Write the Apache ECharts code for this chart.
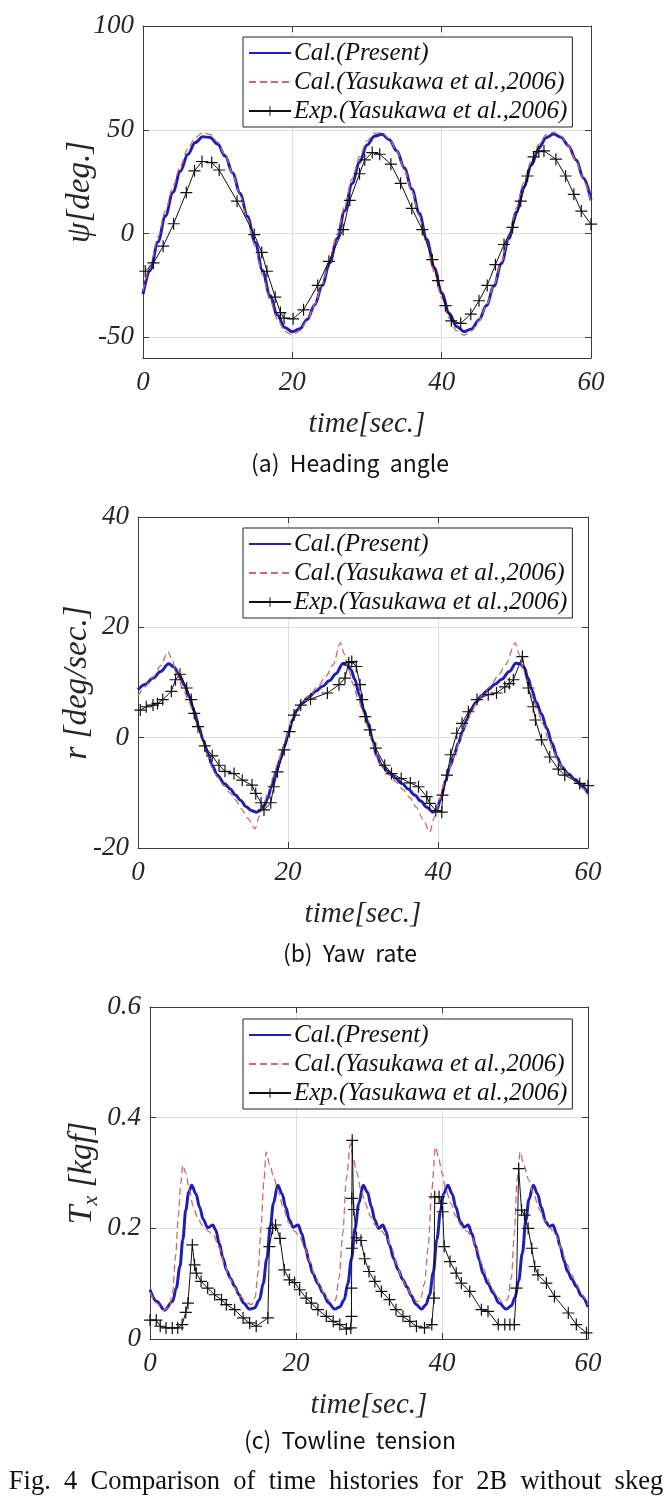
<!DOCTYPE html>
<html><head><meta charset="utf-8">
<script src="https://cdn.jsdelivr.net/npm/echarts@6/dist/echarts.min.js"></script>
<style>html,body{margin:0;padding:0;background:#fff}#c{width:672px;height:1506px}</style>
</head><body><div id="c"></div>
<script>
const seriesNames = ['Cal.(Present)', 'Cal.(Yasukawa et al.,2006)', 'Exp.(Yasukawa et al.,2006)'];
const xTicks = [0, 20, 40, 60];
const headingTicks = [-50, 0, 50, 100];
const yawTicks = [-20, 0, 20, 40];
const tensionTicks = [0, 0.2, 0.4, 0.6];
const captions = ['(a)  Heading  angle', '(b)  Yaw  rate', '(c)  Towline  tension'];
const figCaption = 'Fig.  4  Comparison  of  time  histories  for  2B  without  skeg';

// (a) heading angle
const headingTime = [0,1,2,3,4,5,6,7,8,9,10,11,12,13,14,15,16,17,18,19,20,21,22,23,24,25,26,27,28,29,30,31,32,33,34,35,36,37,38,39,40,41,42,43,44,45,46,47,48,49,50,51,52,53,54,55,56,57,58,59,60];
const headingPresent = [-29.2,-17.4,-4.1,8.4,19.8,30.0,38.1,43.8,46.6,46.3,43.1,37.3,29.2,19.3,8.2,-4.2,-17.8,-29.9,-39.3,-45.3,-47.4,-45.9,-41.5,-34.3,-25.0,-14.2,-2.4,10.9,24.0,34.3,42.6,46.9,47.8,45.2,39.7,31.6,21.5,9.8,-2.8,-16.5,-28.7,-38.4,-44.8,-47.3,-46.0,-41.7,-34.7,-25.3,-14.4,-2.4,10.3,22.4,32.9,41.1,46.2,47.9,46.4,42.2,35.5,26.6,16.1];
const headingYasukawa = [-27.5,-15.2,-1.5,11.0,22.5,32.6,40.8,46.2,48.6,47.7,44.0,37.6,28.9,18.4,6.9,-6.2,-20.0,-32.0,-41.5,-47.2,-48.9,-46.9,-41.9,-34.2,-24.2,-12.9,-0.3,13.2,26.4,37.0,44.6,48.4,48.6,45.7,39.6,31.0,20.4,8.4,-4.9,-18.7,-31.0,-40.8,-46.9,-49.0,-47.0,-42.1,-34.6,-24.8,-13.6,-0.8,12.5,24.6,35.0,43.0,47.6,48.9,46.9,42.2,35.0,25.8,15.0];
const headingExp = [[0.3,-18.2],[1.4,-14.2],[2.7,-6.1],[4.1,4.7],[5.8,19.7],[6.9,30.2],[7.9,34.7],[9.2,34.2],[10.2,30.6],[12.6,15.6],[14.9,-0.5],[15.9,-9.1],[16.6,-18.2],[17.7,-30.7],[18.4,-38.1],[18.9,-40.8],[20.1,-41.1],[21.5,-36.8],[23.4,-25],[24.9,-13.4],[26.8,1.9],[27.7,16],[29.0,28.8],[29.7,35.5],[30.7,39],[31.7,38.2],[33.2,33.4],[34.5,24.2],[36.0,12.1],[37.4,1.9],[38.75,-12.6],[39.5,-22.7],[40.5,-34.8],[41.3,-42.1],[42.55,-43.3],[43.9,-38.9],[45.0,-32.4],[46.1,-25],[47.2,-15],[48.35,-5.3],[49.5,3],[50.6,15.6],[51.5,27.7],[52.3,36.9],[53.0,39.5],[53.7,39.8],[55.3,35.8],[56.6,27.7],[57.7,18.9],[58.7,10.8],[60,4.5]];

// (b) yaw rate
const yawPresent = [[0,8.7],[1,9.7],[2,10.8],[3,12],[4.1,13.4],[4.8,12.8],[5.5,11.4],[6.2,9.5],[6.8,7.5],[7.5,4.8],[8.1,2],[8.7,-0.5],[9.3,-2.8],[9.9,-5.1],[10.6,-6.8],[11.5,-8.3],[12.3,-9.3],[13.0,-10.4],[13.7,-11.4],[14.4,-12.5],[15.1,-13.2],[15.8,-13.5],[16.3,-13.2],[16.8,-12.4],[17.3,-11],[17.8,-8.8],[18.4,-6.3],[19.0,-3.8],[19.5,-1.6],[20.1,1],[20.6,3.2],[21.2,5],[21.9,6.3],[22.8,7.4],[23.7,8.4],[24.6,9.3],[25.5,10.3],[26.4,11.6],[27.3,13.4],[27.9,13.2],[28.4,12.3],[28.9,10.6],[29.5,7.8],[30.1,5],[30.7,2.6],[31.3,-0.5],[31.8,-3.2],[32.5,-5],[33.4,-6.2],[34.3,-7.3],[35.2,-8.3],[36.0,-9.3],[36.9,-10.4],[37.7,-11.5],[38.5,-12.6],[39.3,-13.5],[39.8,-13.1],[40.4,-11],[41.0,-7.8],[41.6,-5.2],[42.2,-2.9],[42.7,-1],[43.3,1.2],[43.8,3.2],[44.4,5],[45.0,6.3],[45.8,7.6],[46.7,8.7],[47.6,9.7],[48.5,10.6],[49.5,12],[50.4,13.5],[50.9,13.4],[51.5,12.7],[52.0,10.8],[52.5,8.7],[53.1,6.4],[53.8,4.3],[54.5,1.7],[55.2,-1],[55.9,-3.6],[56.5,-5.3],[57.4,-6.6],[58.3,-7.6],[59.2,-8.8],[60,-10.1]];
const yawYasukawa = [[0,7.5],[1,9.3],[2,11],[3,13],[4.0,15.6],[4.5,14.2],[5.2,11.5],[6,8.8],[6.8,6.5],[7.5,4],[8.1,1.5],[8.7,-1],[9.3,-3.3],[9.9,-5.5],[10.6,-7.2],[11.5,-8.8],[12.3,-10],[13.0,-11.3],[13.8,-12.9],[14.6,-14.6],[15.6,-16.5],[16.2,-14.2],[16.8,-11.8],[17.4,-9.6],[18.0,-7.2],[18.6,-4.8],[19.2,-2.4],[19.8,0.2],[20.5,2.8],[21.2,4.8],[22,6.4],[23,7.9],[24,9.3],[25,11],[26,13.2],[27.0,17.2],[27.5,15.2],[28.1,12.2],[28.7,9.6],[29.3,7.2],[30,4.6],[30.7,1.8],[31.3,-1],[31.9,-3.6],[32.6,-5.4],[33.5,-6.8],[34.4,-8],[35.3,-9.4],[36.2,-10.8],[37.1,-12.6],[38,-14.8],[38.9,-17.1],[39.5,-14.5],[40.2,-11.2],[40.9,-8],[41.6,-5.2],[42.3,-2.6],[43,-0.2],[43.7,2.4],[44.4,4.6],[45.1,6.2],[46,7.8],[47,9.4],[48,11.2],[49,13.2],[50.3,17.2],[50.8,15.2],[51.4,12.2],[52,9.6],[52.6,7.2],[53.3,4.8],[54,2.4],[54.7,-0.2],[55.4,-2.6],[56.1,-4.6],[56.8,-6.0],[57.6,-7.1],[58.5,-8.2],[59.3,-9.2],[60,-10.5]];
const yawExp = [[0.3,5.0],[1.1,5.6],[2.0,5.9],[2.6,6.2],[3.3,6.9],[4.45,8.4],[5.0,10.5],[5.6,11.5],[6.5,9.0],[7.1,6.9],[7.5,4.4],[8.0,2.0],[8.9,-1.5],[9.9,-3.3],[10.8,-5.0],[11.6,-6.1],[12.8,-6.5],[13.9,-7.7],[15.2,-8.6],[15.7,-10.1],[16.4,-11.8],[16.8,-13.1],[17.7,-11.8],[18.1,-8.9],[18.6,-6.2],[19.5,-2.2],[20.2,1.1],[20.8,4.1],[21.7,5.9],[23.0,7.0],[25.25,8.1],[26.8,9.6],[27.6,10.8],[28.1,13.6],[28.5,13.8],[29.1,12.9],[29.6,9.6],[29.9,6.9],[30.3,3.8],[30.9,1.4],[31.7,-1.9],[32.9,-5.0],[33.8,-6.5],[35.1,-7.4],[36.3,-8.2],[37.4,-8.9],[38.5,-10.7],[38.9,-11.9],[39.7,-13.2],[40.5,-13.5],[40.6,-10.4],[41.2,-6.8],[41.7,-3.1],[42.5,0.8],[43.2,2.6],[44.05,4.7],[45.2,6.9],[46.7,7.8],[47.8,8.1],[48.9,9.2],[49.5,9.8],[50.05,10.5],[51.25,14.7],[52.05,9.0],[52.7,5.6],[53.0,3.2],[53.8,-0.4],[54.9,-3.5],[56.05,-5.7],[56.9,-6.8],[58.9,-8.3],[60,-8.7]];

// (c) towline tension
const tensionPresent = [[0,0.089],[0.9,0.068],[2.0,0.052],[3.1,0.068],[3.6,0.092],[4.1,0.131],[4.5,0.18],[4.9,0.233],[5.3,0.265],[5.7,0.278],[6.3,0.262],[6.8,0.238],[7.3,0.216],[7.9,0.201],[8.6,0.206],[9.0,0.197],[9.5,0.172],[10.0,0.146],[10.5,0.124],[11.0,0.11],[11.6,0.095],[12.2,0.08],[12.8,0.065],[13.6,0.054],[14.3,0.056],[15.0,0.071],[15.5,0.1],[16.0,0.145],[16.5,0.205],[16.9,0.245],[17.5,0.278],[18.1,0.262],[18.6,0.238],[19.1,0.215],[19.6,0.202],[20.3,0.206],[20.8,0.19],[21.3,0.164],[21.8,0.14],[22.3,0.119],[23,0.1],[23.7,0.083],[24.4,0.066],[25.3,0.054],[26.0,0.058],[26.6,0.071],[27.1,0.1],[27.6,0.145],[28.1,0.2],[28.6,0.245],[29.2,0.278],[29.8,0.265],[30.3,0.24],[30.8,0.215],[31.3,0.2],[31.9,0.206],[32.3,0.195],[32.8,0.17],[33.4,0.145],[34.0,0.125],[34.6,0.108],[35.2,0.094],[35.8,0.078],[36.4,0.063],[37.2,0.054],[37.8,0.062],[38.3,0.08],[38.8,0.12],[39.3,0.18],[39.8,0.232],[40.2,0.262],[40.8,0.278],[41.4,0.262],[41.9,0.238],[42.5,0.212],[43.0,0.202],[43.6,0.206],[44.1,0.19],[44.6,0.168],[45.1,0.143],[45.6,0.119],[46.3,0.1],[47.0,0.083],[47.8,0.065],[48.8,0.054],[49.5,0.06],[50.0,0.075],[50.5,0.105],[51.0,0.155],[51.5,0.215],[51.9,0.252],[52.5,0.278],[53.1,0.262],[53.6,0.238],[54.2,0.212],[54.7,0.203],[55.2,0.206],[55.7,0.19],[56.2,0.167],[56.7,0.142],[57.2,0.122],[57.8,0.108],[58.4,0.095],[59.1,0.078],[60,0.058]];
const tensionYasukawa = [[0,0.085],[0.9,0.065],[1.8,0.052],[2.6,0.056],[3.1,0.085],[3.5,0.15],[3.9,0.225],[4.2,0.28],[4.5,0.314],[4.9,0.3],[5.4,0.27],[5.9,0.24],[6.5,0.22],[7.2,0.205],[8.0,0.195],[8.7,0.187],[9.5,0.165],[10.2,0.135],[10.9,0.11],[11.6,0.093],[12.4,0.077],[13.2,0.066],[13.9,0.062],[14.4,0.075],[14.8,0.12],[15.2,0.2],[15.6,0.285],[15.9,0.338],[16.4,0.315],[17,0.29],[17.6,0.265],[18.3,0.235],[19,0.21],[19.8,0.195],[20.5,0.185],[21.2,0.165],[21.9,0.14],[22.6,0.115],[23.4,0.092],[24.1,0.075],[24.8,0.066],[25.4,0.07],[25.9,0.11],[26.4,0.19],[26.9,0.29],[27.45,0.353],[27.8,0.33],[28.3,0.302],[28.9,0.27],[29.5,0.245],[30.2,0.222],[30.9,0.205],[31.7,0.195],[32.4,0.185],[33.1,0.165],[33.8,0.135],[34.5,0.11],[35.2,0.092],[35.9,0.077],[36.6,0.067],[37.1,0.075],[37.6,0.1],[38.1,0.165],[38.6,0.27],[39.1,0.347],[39.5,0.33],[40,0.3],[40.5,0.272],[41.2,0.245],[41.9,0.222],[42.6,0.205],[43.4,0.195],[44.1,0.185],[44.8,0.162],[45.5,0.135],[46.2,0.11],[46.9,0.09],[47.6,0.075],[48.4,0.065],[49.0,0.072],[49.5,0.11],[49.9,0.19],[50.3,0.29],[50.7,0.338],[51.2,0.315],[51.9,0.287],[52.6,0.26],[53.3,0.235],[54,0.215],[54.8,0.2],[55.6,0.188],[56.3,0.165],[57,0.14],[57.7,0.118],[58.4,0.1],[59.2,0.08],[60,0.062]];
const tensionExp = [[0,0.034],[0.86,0.034],[1.4,0.023],[2.2,0.02],[3.05,0.02],[3.8,0.02],[4.4,0.026],[4.9,0.048],[5.2,0.065],[5.8,0.17],[6.1,0.134],[6.35,0.119],[7.0,0.104],[7.9,0.092],[8.85,0.08],[9.8,0.071],[10.45,0.062],[11.6,0.053],[12.75,0.038],[13.65,0.029],[14.55,0.023],[16.15,0.038],[16.35,0.167],[16.8,0.2],[17.2,0.206],[17.8,0.182],[18.4,0.125],[19.1,0.107],[19.8,0.102],[20.5,0.089],[21.4,0.074],[22.1,0.065],[23.0,0.053],[24.15,0.041],[25.1,0.032],[26.0,0.026],[26.9,0.018],[27.5,0.02],[27.6,0.041],[27.6,0.092],[27.65,0.164],[27.65,0.254],[27.7,0.359],[27.9,0.234],[28.3,0.183],[28.9,0.178],[29.4,0.145],[30.0,0.122],[30.8,0.104],[31.7,0.086],[32.8,0.071],[33.7,0.053],[34.65,0.041],[35.6,0.032],[36.5,0.023],[37.6,0.02],[38.6,0.026],[38.9,0.074],[39.0,0.257],[39.6,0.257],[39.9,0.245],[40.1,0.23],[40.3,0.167],[41.1,0.14],[41.95,0.119],[42.65,0.101],[43.8,0.086],[45.4,0.053],[46.3,0.05],[47.7,0.026],[48.6,0.026],[49.3,0.026],[49.9,0.026],[50.2,0.092],[50.5,0.308],[50.9,0.233],[51.3,0.224],[51.8,0.2],[52.3,0.164],[52.7,0.131],[53.15,0.116],[54.3,0.101],[55.4,0.077],[57.3,0.047],[58.4,0.026],[59.8,0.011]];

const SERIF = '"Liberation Serif", "Times New Roman", serif';
const BLUE = '#1f1fb4', RED = '#cc6b6b', BLACK = '#111111', AXIS = '#3c3c3c', GRIDC = '#dedede';
const PLUS = 'path://M-0.1,-1L0.1,-1L0.1,-0.1L1,-0.1L1,0.1L0.1,0.1L0.1,1L-0.1,1L-0.1,0.1L-1,0.1L-1,-0.1L-0.1,-0.1Z';

const grids = [
  {left: 143, top: 26, width: 448, height: 332},
  {left: 138, top: 517, width: 450, height: 331},
  {left: 150, top: 1007, width: 438, height: 332}
];
const yCfg = [
  {min: -60, max: 100, ticks: headingTicks, name: 'ψ[deg.]', gap: 46},
  {min: -20, max: 40, ticks: yawTicks, name: 'r [deg/sec.]', gap: 44},
  {min: 0, max: 0.6, ticks: tensionTicks, name: '{t|T}{s|x} [kgf]', gap: 48}
];
const labelStyle = {color: '#262626', fontFamily: SERIF, fontStyle: 'italic', fontSize: 27};
const xNameStyle = {color: '#262626', fontFamily: SERIF, fontStyle: 'italic', fontSize: 29};
const yNameStyle = {color: '#262626', fontFamily: SERIF, fontStyle: 'italic', fontSize: 33,
  rich: {t: {fontFamily: SERIF, fontStyle: 'italic', fontSize: 34, color: '#262626'},
         s: {fontFamily: SERIF, fontStyle: 'italic', fontSize: 22, color: '#262626', padding: [18, 0, 0, 0]}}};

const xAxes = [], yAxes = [];
grids.forEach((g, i) => {
  const base = {gridIndex: i, type: 'value', min: xTicks[0], max: xTicks[xTicks.length - 1], interval: xTicks[1] - xTicks[0],
    axisLine: {show: true, onZero: false, lineStyle: {color: AXIS, width: 1}},
    axisTick: {show: true, inside: true, length: 6, lineStyle: {color: AXIS}}};
  xAxes.push(Object.assign({}, base, {position: 'bottom',
    axisLabel: Object.assign({show: true, margin: 11, showMinLabel: true, showMaxLabel: true}, labelStyle),
    splitLine: {show: true, lineStyle: {color: GRIDC, width: 1}},
    name: 'time[sec.]', nameLocation: 'middle', nameGap: 52, nameMoveOverlap: false, nameTextStyle: xNameStyle}));
  xAxes.push(Object.assign({}, base, {position: 'top', axisLabel: {show: false}, splitLine: {show: false}}));
  const c = yCfg[i];
  const ybase = {gridIndex: i, type: 'value', min: c.min, max: c.max,
    axisLine: {show: true, onZero: false, lineStyle: {color: AXIS, width: 1}},
    axisTick: {show: true, inside: true, length: 6, lineStyle: {color: AXIS}, customValues: c.ticks}};
  yAxes.push(Object.assign({}, ybase, {position: 'left',
    axisLabel: Object.assign({show: true, margin: 9, customValues: c.ticks, showMinLabel: true, showMaxLabel: true}, labelStyle),
    splitLine: {show: true, lineStyle: {color: GRIDC, width: 1}},
    name: c.name, nameLocation: 'middle', nameGap: c.gap, nameMoveOverlap: false, nameTextStyle: yNameStyle}));
  yAxes.push(Object.assign({}, ybase, {position: 'right', axisLabel: {show: false}, splitLine: {show: false}}));
});

function zip(ts, vs) { return ts.map((t, k) => [t, vs[k]]); }
const dataSets = [
  [zip(headingTime, headingPresent), zip(headingTime, headingYasukawa), headingExp],
  [yawPresent, yawYasukawa, yawExp],
  [tensionPresent, tensionYasukawa, tensionExp]
];
const series = [];
dataSets.forEach((d, i) => {
  series.push({type: 'line', name: seriesNames[0], xAxisIndex: 2 * i, yAxisIndex: 2 * i, data: d[0],
    symbol: 'circle', showSymbol: false, smooth: 0.35, smoothMonotone: 'x',
    lineStyle: {color: BLUE, width: 3}, itemStyle: {color: BLUE}, z: 2});
  series.push({type: 'line', name: seriesNames[1], xAxisIndex: 2 * i, yAxisIndex: 2 * i, data: d[1],
    symbol: 'circle', showSymbol: false, smooth: 0.3, smoothMonotone: 'x',
    lineStyle: {color: RED, width: 1.3, type: [7, 4]}, itemStyle: {color: RED}, z: 3});
  series.push({type: 'line', name: seriesNames[2], xAxisIndex: 2 * i, yAxisIndex: 2 * i, data: d[2],
    symbol: PLUS, symbolSize: 12, showSymbol: true,
    lineStyle: {color: BLACK, width: 1}, itemStyle: {color: BLACK}, z: 4});
});

const legendTops = [37, 528, 1019];
const legendData = [
  {name: seriesNames[0], itemStyle: {opacity: 0}},
  {name: seriesNames[1], itemStyle: {opacity: 0}},
  {name: seriesNames[2]}
];
const legends = legendTops.map(t => ({
  data: legendData, left: 243, top: t, orient: 'vertical', selectedMode: false,
  backgroundColor: '#fff', borderColor: '#222', borderWidth: 1, padding: [3, 5, 3, 5],
  itemGap: 3, itemWidth: 42, itemHeight: 12,
  textStyle: {fontFamily: SERIF, fontStyle: 'italic', fontSize: 25, color: '#111', lineHeight: 26, padding: [0, 0, 0, -2]}
}));

const capY = [463, 953, 1440];
const graphics = captions.map((txt, i) => ({type: 'text', x: 350, y: capY[i],
  style: {text: txt, fontFamily: '"Noto Sans CJK KR", "Noto Sans", sans-serif', fontSize: 23, fill: '#111',
    align: 'center', verticalAlign: 'middle', textAlign: 'center', textVerticalAlign: 'middle'}}));
graphics.push({type: 'text', x: 336, y: 1482,
  style: {text: figCaption, fontFamily: SERIF, fontSize: 26.5, fill: '#111',
    align: 'center', verticalAlign: 'middle', textAlign: 'center', textVerticalAlign: 'middle'}});

const chart = echarts.init(document.getElementById('c'), null, {renderer: 'canvas'});
chart.setOption({
  animation: false, backgroundColor: '#fff',
  grid: grids, xAxis: xAxes, yAxis: yAxes, series: series, legend: legends, graphic: graphics
});
</script></body></html>
